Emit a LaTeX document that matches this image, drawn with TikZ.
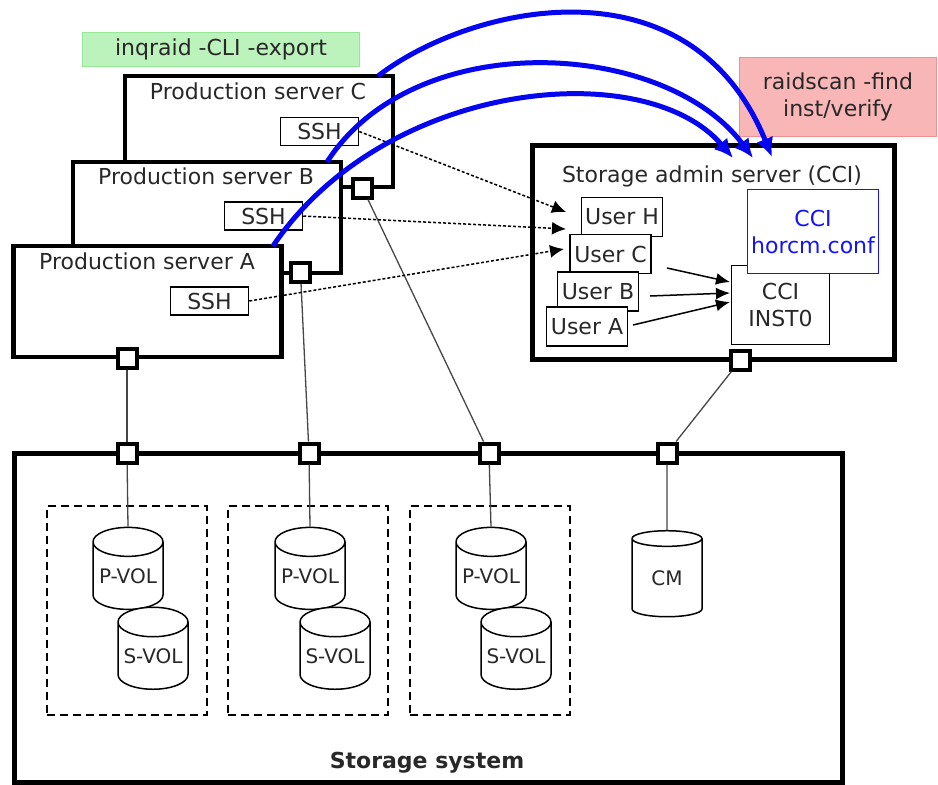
\documentclass[tikz,border=0pt]{standalone}
\usepackage{fontspec}
\setmainfont{DejaVu Sans}
\usetikzlibrary{arrows.meta,shapes.geometric}
\definecolor{greenfill}{RGB}{188,242,188}
\definecolor{greenline}{RGB}{150,230,150}
\definecolor{pinkfill}{RGB}{249,182,182}
\definecolor{pinkline}{RGB}{240,145,145}
\definecolor{cciblue}{RGB}{20,20,245}
\definecolor{arcblue}{RGB}{5,5,240}
\definecolor{txt}{RGB}{40,40,40}
\definecolor{wire}{RGB}{70,70,70}
\begin{document}
\begin{tikzpicture}[x=1pt,y=-1pt,
  every node/.style={font=\fontsize{22}{27}\selectfont, text=txt},
  srv/.style={draw, line width=4.5pt, fill=white, minimum width=268pt, minimum height=111pt, inner sep=0pt},
  port/.style={draw, line width=4pt, fill=white, minimum size=19pt, inner sep=0pt},
  box/.style={draw, line width=1.5pt, fill=white, inner sep=0pt},
  sshbox/.style={box, minimum width=78pt, minimum height=28pt},
  userbox/.style={box, minimum width=81pt, minimum height=39pt},
  cyl/.style={cylinder, shape border rotate=90, draw, line width=1.5pt, fill=white, aspect=0.5,
     minimum width=70pt, minimum height=82pt, inner sep=0pt, font=\fontsize{20}{24}\selectfont},
  grp/.style={draw, line width=1.5pt, dash pattern=on 8pt off 5pt, minimum width=160pt, minimum height=209pt, inner sep=0pt},
  wireline/.style={draw=wire, line width=1.3pt},
  dotarrow/.style={draw=black, line width=1.5pt, dash pattern=on 3pt off 2pt, -{Latex[length=14pt,width=13pt]}},
  userarrow/.style={draw=black, line width=1.5pt, -{Latex[length=14pt,width=12pt]}},
  bluearrow/.style={draw=arcblue, line width=5pt, -{Latex[length=19pt,width=18pt]}}
]
\useasboundingbox (0,0) rectangle (938,785);

% command labels
\node[draw=greenline, fill=greenfill, line width=1.5pt, minimum width=277pt, minimum height=34pt, inner sep=0pt]
  (inq) at (221,49.5) {inqraid -CLI -export};
\node[draw=pinkline, fill=pinkfill, line width=1.5pt, minimum width=197pt, minimum height=79pt, inner sep=0pt, align=center]
  (raid) at (838,97) {raidscan -find\\inst/verify};

% production servers
\node[srv] (srvC) at (259,131.5) {};
\node[anchor=base] (tC) at (258,99) {Production server C};
\node[sshbox] (sshC) at (319.5,131.5) {SSH};
\node[port] (pC) at (362.5,188) {};

\node[srv] (srvB) at (207,217.5) {};
\node[anchor=base] (tB) at (206,184) {Production server B};
\node[sshbox] (sshB) at (263.5,216) {SSH};
\node[port] (pB) at (300.5,272.5) {};

\node[srv] (srvA) at (147.5,301.5) {};
\node[anchor=base] (tA) at (147,269) {Production server A};
\node[sshbox] (sshA) at (209.5,301) {SSH};
\node[port] (pA) at (127,358) {};

% storage admin server
\node[draw, line width=5pt, fill=white, minimum width=362pt, minimum height=214pt, inner sep=0pt]
  (adm) at (713.5,252.5) {};
\node[anchor=base] (tAdm) at (712,182) {Storage admin server (CCI)};
\node[box, minimum width=98pt, minimum height=79pt, align=center] (inst) at (780.5,305) {CCI\\INST0};
\node[box, draw=cciblue, text=cciblue, minimum width=131pt, minimum height=84pt, align=center] (horcm) at (813,231.5) {CCI\\horcm.conf};
\node[userbox] (uH) at (622,217) {User H};
\node[userbox] (uC) at (610.5,254) {User C};
\node[userbox] (uB) at (598,291.5) {User B};
\node[userbox] (uA) at (587,326.5) {User A};
\node[port] (pAdm) at (740.5,360) {};

% storage system
\node[draw, line width=5pt, fill=white, minimum width=828pt, minimum height=329pt, inner sep=0pt]
  (stor) at (428.5,618) {};
\node[anchor=base, font=\fontsize{22}{27}\selectfont\bfseries] (tStor) at (427,768) {Storage system};
\node[port] (s1) at (127,453) {};
\node[port] (s2) at (309,453) {};
\node[port] (s3) at (489,453) {};
\node[port] (s4) at (667,453) {};

\node[grp] (g1) at (127,610.5) {};
\node[grp] (g2) at (308,610.5) {};
\node[grp] (g3) at (490,610.5) {};

\node[cyl] (pv1) at (128,576) {P-VOL};
\node[cyl] (sv1) at (153,656) {S-VOL};
\node[cyl] (pv2) at (310,576) {P-VOL};
\node[cyl] (sv2) at (335,656) {S-VOL};
\node[cyl] (pv3) at (491,576) {P-VOL};
\node[cyl] (sv3) at (516,656) {S-VOL};
\node[cyl, minimum height=86pt] (cm) at (667,578) {CM};

% wires
\draw[wireline] (pA) -- (s1);
\draw[wireline] (pB) -- (s2);
\draw[wireline] (pC) -- (s3);
\draw[wireline] (pAdm) -- (s4);
\draw[wireline] (s1) -- (pv1.north);
\draw[wireline] (s2) -- (pv2.north);
\draw[wireline] (s3) -- (pv3.north);
\draw[wireline] (s4) -- (cm.north);

% ssh dotted arrows
\coordinate (dH) at (566,212);
\coordinate (dC) at (566,229);
\coordinate (dA) at (564,249);
\draw[dotarrow] (sshC.east) -- (dH);
\draw[dotarrow] (sshB.east) -- (dC);
\draw[dotarrow] (sshA.east) -- (dA);

% user arrows to INST0
\coordinate (u1) at (667,268);
\coordinate (u2) at (650,296);
\coordinate (u3) at (633,325);
\coordinate (i1) at (730,282);
\coordinate (i2) at (730,293);
\coordinate (i3) at (730,302);
\draw[userarrow] (u1) -- (i1);
\draw[userarrow] (u2) -- (i2);
\draw[userarrow] (u3) -- (i3);

% blue arcs
\coordinate (bC) at (378,76);
\coordinate (bB) at (327,162);
\coordinate (bA) at (273,246);
\coordinate (eC) at (772,157);
\coordinate (eB) at (753,158);
\coordinate (eA) at (733,158);
\draw[bluearrow] (bC) .. controls (470,5) and (690,-45) .. (eC);
\draw[bluearrow] (bB) .. controls (415,25) and (665,40) .. (eB);
\draw[bluearrow] (bA) .. controls (385,80) and (645,55) .. (eA);
\end{tikzpicture}
\end{document}
